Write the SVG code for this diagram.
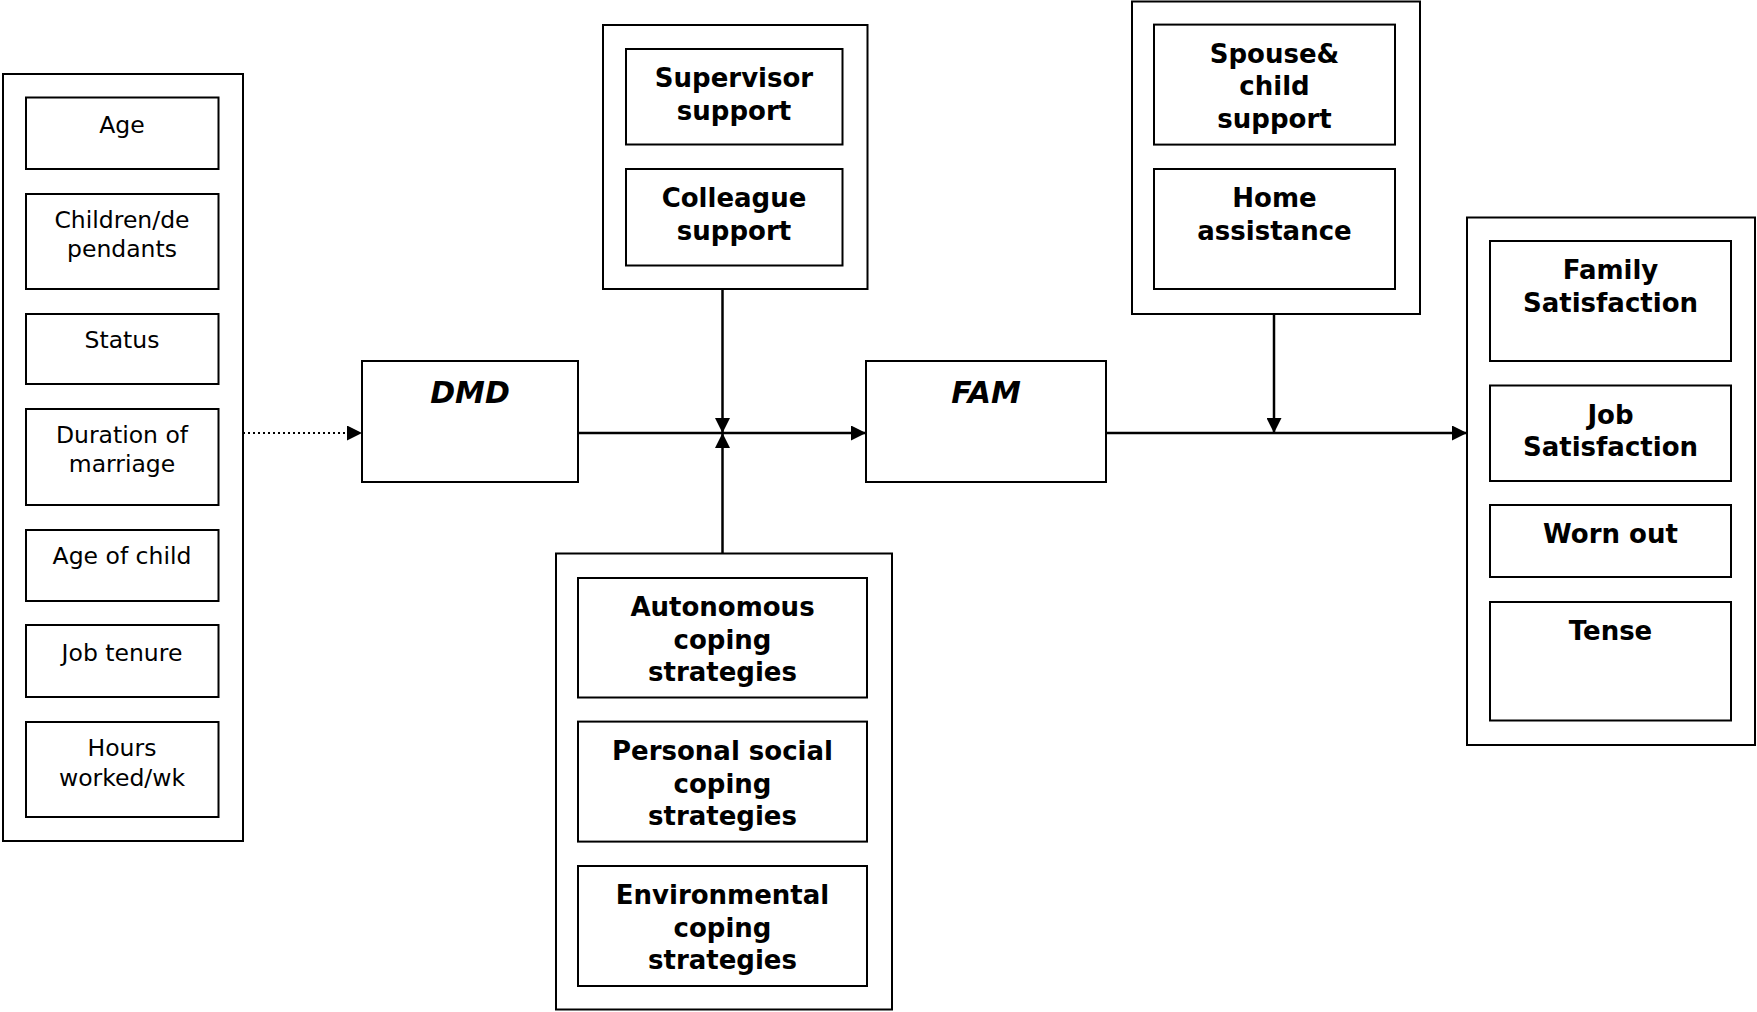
<svg xmlns="http://www.w3.org/2000/svg" width="1757" height="1012" viewBox="0 0 1757 1012">
<style>
  .box { fill: #fff; stroke: #000; stroke-width: 2; }
  .outer { fill: none; stroke: #000; stroke-width: 2; }
  .t { font-family: "DejaVu Sans", Verdana, sans-serif; font-size: 23.5px; text-anchor: middle; fill: #000; }
  .b { font-family: "DejaVu Sans", Verdana, sans-serif; font-size: 26px; font-weight: bold; text-anchor: middle; fill: #000; }
  .bi { font-family: "DejaVu Sans", Verdana, sans-serif; font-size: 30px; font-weight: bold; font-style: italic; text-anchor: middle; fill: #000; }
  .conn { stroke: #000; stroke-width: 2.5; fill: none; }
  .dot { stroke: #000; stroke-width: 2; fill: none; stroke-dasharray: 2 3; }
</style>
<defs>
  <marker id="arr" viewBox="0 0 15 15" refX="15" refY="7.5" markerWidth="15" markerHeight="15" markerUnits="userSpaceOnUse" orient="auto">
    <path d="M0,0 L15,7.5 L0,15 z" fill="#000"/>
  </marker>
</defs>
<rect width="1757" height="1012" fill="#fff"/>

<g id="demographics">
  <rect class="outer" x="3" y="74" width="240" height="767"/>
  <g id="age"><rect class="box" x="26" y="97.5" width="192.5" height="71.5"/><text class="t" x="122" y="132.5">Age</text></g>
  <g id="children"><rect class="box" x="26" y="194" width="192.5" height="95"/><text class="t" x="122" y="228">Children/de</text><text class="t" x="122" y="257">pendants</text></g>
  <g id="status"><rect class="box" x="26" y="314" width="192.5" height="70"/><text class="t" x="122" y="348">Status</text></g>
  <g id="duration"><rect class="box" x="26" y="409" width="192.5" height="96"/><text class="t" x="122" y="443">Duration of</text><text class="t" x="122" y="472">marriage</text></g>
  <g id="agechild"><rect class="box" x="26" y="530" width="192.5" height="71"/><text class="t" x="122" y="564">Age of child</text></g>
  <g id="tenure"><rect class="box" x="26" y="625" width="192.5" height="72"/><text class="t" x="122" y="661">Job tenure</text></g>
  <g id="hours"><rect class="box" x="26" y="722" width="192.5" height="95"/><text class="t" x="122" y="756">Hours</text><text class="t" x="122" y="786">worked/wk</text></g>
</g>

<g id="dmd"><rect class="box" x="362" y="361" width="216" height="121"/><text class="bi" x="470" y="403">DMD</text></g>
<g id="fam"><rect class="box" x="866" y="361" width="240" height="121"/><text class="bi" x="986" y="403">FAM</text></g>

<g id="worksupport">
  <rect class="outer" x="603" y="25" width="264.5" height="264"/>
  <g id="supervisor"><rect class="box" x="626" y="49" width="216.5" height="95.5"/><text class="b" x="734" y="87">Supervisor</text><text class="b" x="734" y="119.5">support</text></g>
  <g id="colleague"><rect class="box" x="626" y="169" width="216.5" height="96.5"/><text class="b" x="734" y="207">Colleague</text><text class="b" x="734" y="239.5">support</text></g>
</g>

<g id="familysupport">
  <rect class="outer" x="1132" y="1.5" width="288" height="312.5"/>
  <g id="spouse"><rect class="box" x="1154" y="24.6" width="241" height="120"/><text class="b" x="1274.5" y="62.5">Spouse&amp;</text><text class="b" x="1274.5" y="95">child</text><text class="b" x="1274.5" y="127.5">support</text></g>
  <g id="home"><rect class="box" x="1154" y="169" width="241" height="120"/><text class="b" x="1274.5" y="207">Home</text><text class="b" x="1274.5" y="239.5">assistance</text></g>
</g>

<g id="coping">
  <rect class="outer" x="556" y="553.5" width="336" height="456"/>
  <g id="autonomous"><rect class="box" x="578" y="578" width="289" height="119.5"/><text class="b" x="722.5" y="616">Autonomous</text><text class="b" x="722.5" y="648.5">coping</text><text class="b" x="722.5" y="681">strategies</text></g>
  <g id="personal"><rect class="box" x="578" y="721.6" width="289" height="120"/><text class="b" x="722.5" y="760">Personal social</text><text class="b" x="722.5" y="792.5">coping</text><text class="b" x="722.5" y="825">strategies</text></g>
  <g id="environmental"><rect class="box" x="578" y="866" width="289" height="120"/><text class="b" x="722.5" y="904">Environmental</text><text class="b" x="722.5" y="936.5">coping</text><text class="b" x="722.5" y="969">strategies</text></g>
</g>

<g id="outcomes">
  <rect class="outer" x="1467" y="217.5" width="288" height="527.5"/>
  <g id="familysat"><rect class="box" x="1490" y="241" width="241" height="120"/><text class="b" x="1610.5" y="279">Family</text><text class="b" x="1610.5" y="311.5">Satisfaction</text></g>
  <g id="jobsat"><rect class="box" x="1490" y="385.5" width="241" height="95.5"/><text class="b" x="1610.5" y="423.5">Job</text><text class="b" x="1610.5" y="456">Satisfaction</text></g>
  <g id="wornout"><rect class="box" x="1490" y="505" width="241" height="72"/><text class="b" x="1610.5" y="543">Worn out</text></g>
  <g id="tense"><rect class="box" x="1490" y="602" width="241" height="118.5"/><text class="b" x="1610.5" y="640">Tense</text></g>
</g>

<g id="connectors">
  <line class="dot" x1="243" y1="433" x2="362" y2="433" marker-end="url(#arr)"/>
  <line class="conn" x1="578" y1="433" x2="866" y2="433" marker-end="url(#arr)"/>
  <line class="conn" x1="722.5" y1="289" x2="722.5" y2="433" marker-end="url(#arr)"/>
  <line class="conn" x1="722.5" y1="553.5" x2="722.5" y2="433" marker-end="url(#arr)"/>
  <line class="conn" x1="1106" y1="433" x2="1467" y2="433" marker-end="url(#arr)"/>
  <line class="conn" x1="1274" y1="314" x2="1274" y2="433" marker-end="url(#arr)"/>
</g>
</svg>
